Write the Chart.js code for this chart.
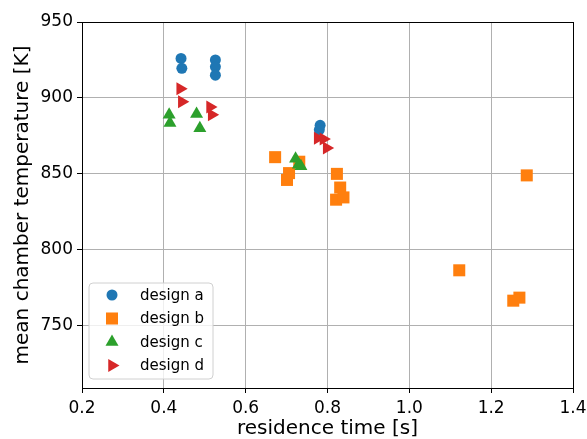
<!DOCTYPE html>
<html>
<head>
<meta charset="utf-8">
<script src="https://cdn.jsdelivr.net/npm/chart.js@4/dist/chart.umd.min.js"></script>
<style>
  html, body { margin: 0; padding: 0; background: #fff; }
  #wrap { width: 587px; height: 439px; }
</style>
</head>
<body>
<div id="wrap"><canvas id="chart" width="587" height="439"></canvas></div>
<script>
// values
const seriesNames = ['design a', 'design b', 'design c', 'design d'];

const designAx = [0.442, 0.444, 0.526, 0.526, 0.526, 0.782, 0.780];
const designAy = [926, 919.5, 925, 920.5, 915, 882, 879];

const designBx = [0.672, 0.706, 0.701, 0.731, 0.823, 0.831, 0.821, 0.839, 1.287, 1.122, 1.269, 1.254];
const designBy = [861, 850.5, 846, 858, 850, 841, 833, 834.5, 849, 786.5, 768.5, 766.5];

const designCx = [0.413, 0.415, 0.480, 0.488, 0.722, 0.729, 0.735];
const designCy = [889, 883.5, 889.5, 880, 860, 856, 855];

const designDx = [0.440, 0.444, 0.513, 0.517, 0.776, 0.790, 0.798];
const designDy = [906, 897.5, 894, 889, 873.5, 873, 867];

const xTicks = [0.2, 0.4, 0.6, 0.8, 1.0, 1.2, 1.4];
const yTicks = [750, 800, 850, 900, 950];

const FONT = "'DejaVu Sans', sans-serif";

function toPoints(xs, ys) {
  return xs.map((x, i) => ({ x, y: ys[i] }));
}

const styles = [
  { color: '#1f77b4', pointStyle: 'circle', radius: 5.5, rotation: 0 },
  { color: '#ff7f0e', pointStyle: 'rect', radius: 8.5, rotation: 0 },
  { color: '#2ca02c', pointStyle: 'triangle', radius: 7.5, rotation: 0 },
  { color: '#d62728', pointStyle: 'triangle', radius: 7.5, rotation: 90 }
];

const allData = [
  toPoints(designAx, designAy),
  toPoints(designBx, designBy),
  toPoints(designCx, designCy),
  toPoints(designDx, designDy)
];

// later series drawn on top, like the original plot
const datasets = seriesNames.map((name, i) => ({
  label: name,
  data: allData[i],
  order: seriesNames.length - 1 - i,
  backgroundColor: styles[i].color,
  borderColor: styles[i].color,
  borderWidth: 0,
  pointStyle: styles[i].pointStyle,
  pointRadius: styles[i].radius,
  pointHoverRadius: styles[i].radius,
  pointRotation: styles[i].rotation
}));

// black box around the plot + legend in lower left corner
const framePlugin = {
  id: 'frameAndLegend',
  afterDraw(chart) {
    const { ctx, chartArea: a } = chart;
    ctx.save();
    ctx.strokeStyle = '#000';
    ctx.lineWidth = 1;
    ctx.strokeRect(Math.round(a.left) + 0.5, Math.round(a.top) + 0.5,
      Math.round(a.right - a.left), Math.round(a.bottom - a.top));

    // legend box
    const bx = 89, by = 283, bw = 124, bh = 96, r = 4;
    ctx.beginPath();
    ctx.moveTo(bx + r, by);
    ctx.arcTo(bx + bw, by, bx + bw, by + bh, r);
    ctx.arcTo(bx + bw, by + bh, bx, by + bh, r);
    ctx.arcTo(bx, by + bh, bx, by, r);
    ctx.arcTo(bx, by, bx + bw, by, r);
    ctx.closePath();
    ctx.fillStyle = 'rgba(255,255,255,0.8)';
    ctx.fill();
    ctx.strokeStyle = '#d0d0d0';
    ctx.stroke();

    ctx.font = '15px ' + FONT;
    ctx.textBaseline = 'middle';
    seriesNames.forEach((name, i) => {
      const y = by + 12 + i * 23.5;
      const s = styles[i];
      ctx.fillStyle = s.color;
      ctx.strokeStyle = s.color;
      Chart.helpers.drawPoint(ctx, {
        pointStyle: s.pointStyle,
        radius: s.radius,
        rotation: s.rotation,
        borderWidth: 0
      }, 112, y);
      ctx.fillStyle = '#000';
      ctx.fillText(name, 140, y + 1);
    });
    ctx.restore();
  }
};

new Chart(document.getElementById('chart'), {
  type: 'scatter',
  data: { datasets },
  options: {
    responsive: false,
    animation: false,
    events: [],
    layout: { padding: { top: 22, right: 0, left: 0, bottom: 0 } },
    plugins: {
      legend: { display: false },
      tooltip: { enabled: false }
    },
    scales: {
      x: {
        type: 'linear',
        min: 0.2,
        max: 1.4,
        afterBuildTicks: s => { s.ticks = xTicks.map(v => ({ value: v })); },
        afterFit: s => { s.height = 51; s.paddingRight = 14; s.paddingLeft = 0; },
        grid: { color: '#b0b0b0', tickColor: '#000', tickLength: 5, lineWidth: 1 },
        border: { display: false },
        ticks: {
          color: '#000',
          font: { family: FONT, size: 17 },
          padding: 5,
          maxRotation: 0,
          callback: v => v.toFixed(1)
        },
        title: {
          display: true,
          text: 'residence time [s]',
          color: '#000',
          font: { family: FONT, size: 20, lineHeight: 1 },
          padding: { top: 0, bottom: 0 }
        }
      },
      y: {
        type: 'linear',
        min: 709,
        max: 950,
        afterBuildTicks: s => { s.ticks = yTicks.map(v => ({ value: v })); },
        afterFit: s => { s.width = 82; s.paddingTop = 0; s.paddingBottom = 0; },
        grid: { color: '#b0b0b0', tickColor: '#000', tickLength: 5, lineWidth: 1 },
        border: { display: false },
        ticks: {
          color: '#000',
          font: { family: FONT, size: 17 },
          padding: 4,
          callback: v => String(v)
        },
        title: {
          display: true,
          text: 'mean chamber temperature [K]',
          color: '#000',
          font: { family: FONT, size: 20 },
          padding: { top: 11, bottom: 0 }
        }
      }
    }
  },
  plugins: [framePlugin]
});
</script>
</body>
</html>
